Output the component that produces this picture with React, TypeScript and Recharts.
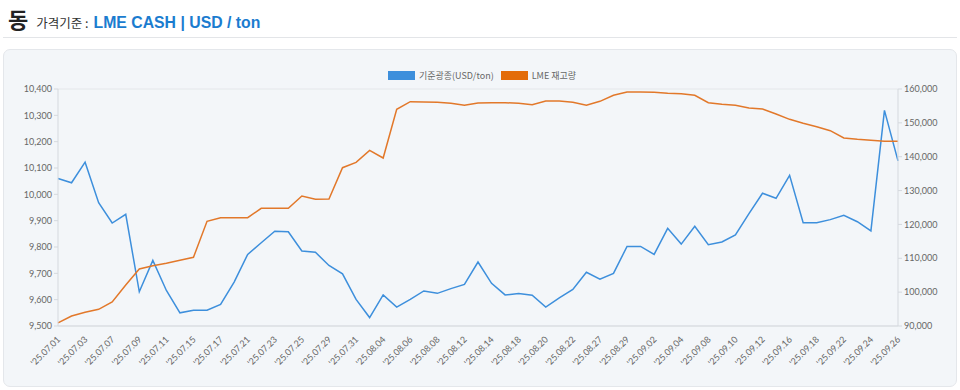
import React from "react";
import { LineChart, Line, XAxis, YAxis, CartesianGrid, Legend } from "recharts";

const dates = [
  "'25.07.01","'25.07.02","'25.07.03","'25.07.04","'25.07.07","'25.07.08","'25.07.09","'25.07.10","'25.07.11","'25.07.14",
  "'25.07.15","'25.07.16","'25.07.17","'25.07.18","'25.07.21","'25.07.22","'25.07.23","'25.07.24","'25.07.25","'25.07.28",
  "'25.07.29","'25.07.30","'25.07.31","'25.08.01","'25.08.04","'25.08.05","'25.08.06","'25.08.07","'25.08.08","'25.08.11",
  "'25.08.12","'25.08.13","'25.08.14","'25.08.15","'25.08.18","'25.08.19","'25.08.20","'25.08.21","'25.08.22","'25.08.26",
  "'25.08.27","'25.08.28","'25.08.29","'25.09.01","'25.09.02","'25.09.03","'25.09.04","'25.09.05","'25.09.08","'25.09.09",
  "'25.09.10","'25.09.11","'25.09.12","'25.09.15","'25.09.16","'25.09.17","'25.09.18","'25.09.19","'25.09.22","'25.09.23",
  "'25.09.24","'25.09.25","'25.09.26",
];

const cashPrice = [
  10060,10044,10122,9968,9891,9924,9630,9749,9635,9550,
  9560,9560,9582,9667,9772,9816,9860,9858,9785,9780,
  9730,9698,9601,9532,9618,9572,9601,9633,9624,9642,
  9658,9743,9662,9618,9623,9617,9572,9607,9639,9704,
  9678,9700,9802,9802,9772,9871,9811,9879,9809,9819,
  9846,9927,10004,9985,10072,9892,9892,9904,9920,9896,
  9861,10319,10127,
];

const lmeStock = [
  90900,92950,94050,94930,97090,102110,106840,107820,108520,109400,
  110290,120920,121990,122000,122000,124760,124760,124760,128400,127420,
  127500,136760,138340,141890,139620,153990,156260,156160,156060,155770,
  155180,155860,155960,155960,155770,155370,156450,156450,156060,155180,
  156360,158130,159110,159110,159010,158720,158620,158130,155960,155470,
  155180,154390,154090,152620,151040,149860,148870,147690,145530,145130,
  144840,144540,144540,
];

const leftTicks = [9500, 9600, 9700, 9800, 9900, 10000, 10100, 10200, 10300, 10400];
const rightTicks = [90000, 100000, 110000, 120000, 130000, 140000, 150000, 160000];

const seriesNames = { price: "기준광종(USD/ton)", stock: "LME 재고량" };

const data = dates.map((d, i) => ({ date: d, price: cashPrice[i], stock: lmeStock[i] }));

const BLUE = "#3d8fdc";
const ORANGE = "#e2782a";
const FONT = "Lato, 'Noto Sans CJK KR', sans-serif";

const fmt = (v: number) => v.toLocaleString("en-US");

const XTick = (props: any) => {
  const { x, y, payload } = props;
  return (
    <g transform={`translate(${x + 3},${y + 6})`}>
      <text x={0} y={0} textAnchor="end" fontSize={9} fill="#666" fontFamily={FONT} transform="rotate(-45)">
        {payload.value}
      </text>
    </g>
  );
};

const LegendContent = () => (
  <div style={{ display: "flex", justifyContent: "center", alignItems: "center", fontFamily: "'Noto Sans CJK KR', sans-serif", fontSize: 9, color: "#666", lineHeight: "13px" }}>
    <span style={{ display: "inline-block", width: 27, height: 9, background: BLUE, marginRight: 4 }} />
    <span style={{ marginRight: 7 }}>{seriesNames.price}</span>
    <span style={{ display: "inline-block", width: 27, height: 9, background: "#e36c09", marginRight: 4 }} />
    <span>{seriesNames.stock}</span>
  </div>
);

export default function App() {
  return (
    <div style={{ position: "absolute", left: 0, top: 0, width: 960, height: 390, background: "#fff", fontFamily: FONT }}>
      <div style={{ position: "absolute", left: 8, top: 2, display: "flex", alignItems: "baseline", whiteSpace: "nowrap" }}>
        <span style={{ fontFamily: "'Noto Sans CJK KR', sans-serif", fontWeight: 700, fontSize: 22, color: "#222" }}>동</span>
        <span style={{ fontFamily: "'Noto Sans CJK KR', sans-serif", fontSize: 12.5, color: "#333", marginLeft: 8 }}>가격기준 :</span>
        <span style={{ fontFamily: "'Liberation Sans', Arial, sans-serif", fontWeight: 700, fontSize: 15.8, color: "#1b7ccf", marginLeft: 5 }}>LME CASH | USD / ton</span>
      </div>
      <div style={{ position: "absolute", left: 3, top: 37, width: 954, height: 1, background: "#e3e5e8" }} />
      <div style={{ position: "absolute", left: 3, top: 49, width: 952, height: 336, background: "#f3f6f9", border: "1px solid #e4e7eb", borderRadius: 7 }}>
        <LineChart width={952} height={336} data={data} margin={{ top: 19, right: 0, bottom: 0, left: 4 }}>
          <Legend verticalAlign="top" height={20} content={<LegendContent />} />
          <CartesianGrid vertical={false} stroke="#e4e7ea" />
          <XAxis dataKey="date" interval={1} tick={<XTick />} height={60} stroke="#d5d9de" tickLine={false} />
          <YAxis yAxisId="left" domain={[9500, 10400]} ticks={leftTicks} tickFormatter={fmt} width={50}
            tick={{ fontSize: 9, fill: "#666", fontFamily: FONT }} stroke="#d5d9de" tickSize={4} />
          <YAxis yAxisId="right" orientation="right" domain={[90000, 160000]} ticks={rightTicks} tickFormatter={fmt} width={58}
            tick={{ fontSize: 9, fill: "#666", fontFamily: FONT }} stroke="#d5d9de" tickSize={4} />
          <Line yAxisId="left" type="linear" dataKey="price" name={seriesNames.price} stroke={BLUE} strokeWidth={1.5} dot={false} isAnimationActive={false} />
          <Line yAxisId="right" type="linear" dataKey="stock" name={seriesNames.stock} stroke={ORANGE} strokeWidth={1.5} dot={false} isAnimationActive={false} />
        </LineChart>
      </div>
    </div>
  );
}
